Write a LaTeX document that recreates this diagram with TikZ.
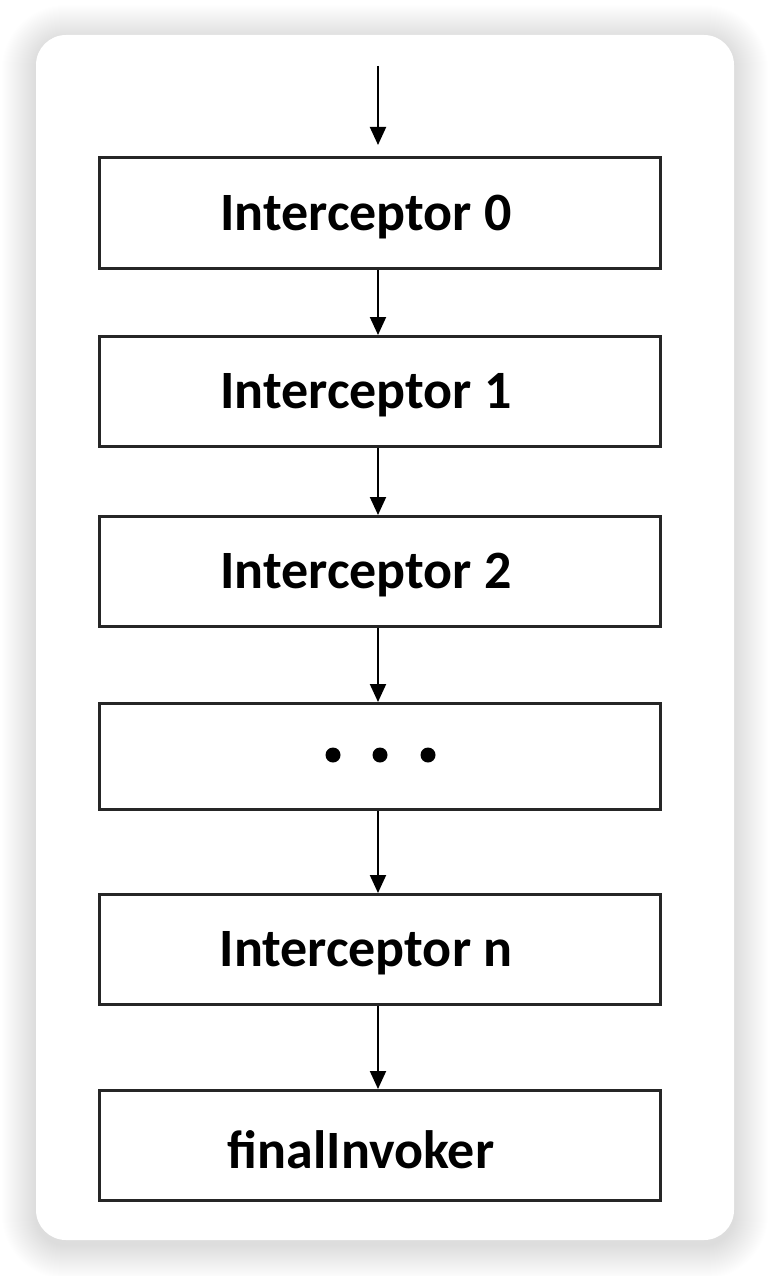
\documentclass[tikz,border=0pt]{standalone}
\usepackage{fontspec}
\setmainfont{Carlito}
\usetikzlibrary{arrows.meta}
\tikzset{
  stagebox/.style={draw=black!85, line width=3pt, fill=white, minimum width=561pt, minimum height=110pt, inner sep=0pt, anchor=north west},
  lbl/.style={font=\fontsize{54}{60}\bfseries\selectfont, inner sep=0pt, text=black},
  flow/.style={line width=2pt, -{Triangle[width=16pt,length=18pt]}},
}
\begin{document}
\begin{tikzpicture}[x=1pt,y=-1pt]
\useasboundingbox (0,0) rectangle (770,1276);
\fill[white] (0,0) rectangle (770,1276);
% shadow
\foreach \i in {1,...,34}{
  \fill[black, opacity=0.0055, rounded corners={30+\i}] (36-\i,35-\i+4) rectangle (734+\i,1240+\i+5);
}
\fill[white, rounded corners=30] (36,35) rectangle (734,1240);
% boxes
\node[stagebox, minimum height=111pt] (b0) at (98,156) {};
\node[stagebox] (b1) at (98,335) {};
\node[stagebox] (b2) at (98,515) {};
\node[stagebox, minimum height=106pt] (bd) at (98,702) {};
\node[stagebox] (bn) at (98,893) {};
\node[stagebox] (bf) at (98,1089) {};
% labels
\node[lbl] (t0) at ([xshift=-14pt,yshift=-4pt]b0.center) {Interceptor 0};
\node[lbl] (t1) at ([xshift=-14pt,yshift=-4pt]b1.center) {Interceptor 1};
\node[lbl] (t2) at ([xshift=-14pt,yshift=-4pt]b2.center) {Interceptor 2};
\node[lbl] (tn) at ([xshift=-14pt,yshift=-4pt]bn.center) {Interceptor n};
\node[lbl] (tf) at ([xshift=-19pt,yshift=-4pt]bf.center) {finalInvoker};
% dots
\fill (333,755) circle (7.5);
\fill (380,755) circle (7.5);
\fill (428,755) circle (7.5);
% arrows
\coordinate (start) at (378,66);
\draw[flow, shorten >=11pt] (start) -- (start |- b0.north);
\draw[flow] (b0.south -| start) -- (b1.north -| start);
\draw[flow] (b1.south -| start) -- (b2.north -| start);
\draw[flow] (b2.south -| start) -- (bd.north -| start);
\draw[flow] (bd.south -| start) -- (bn.north -| start);
\draw[flow] (bn.south -| start) -- (bf.north -| start);
\end{tikzpicture}
\end{document}
